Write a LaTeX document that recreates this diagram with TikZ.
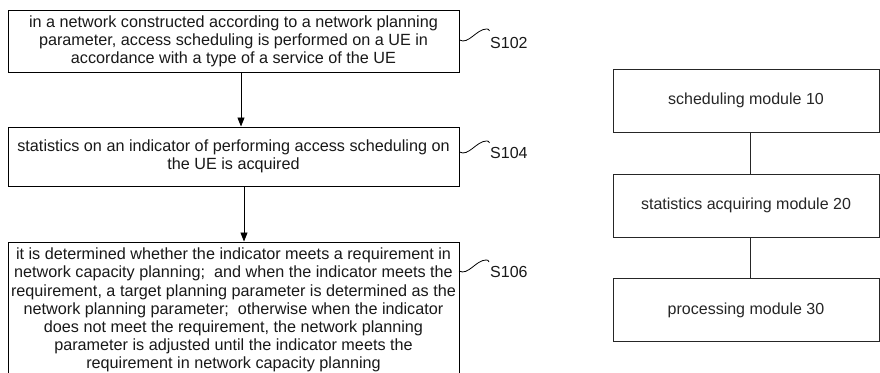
\documentclass[tikz,border=0pt]{standalone}
\usepackage{fontspec}
\setmainfont{Liberation Sans}
\usetikzlibrary{arrows.meta,calc}
\tikzset{
  stepbox/.style={draw=black,line width=0.95pt,rectangle,inner sep=0pt,align=center,
    minimum width=451pt,font=\fontsize{16.2}{18.1}\selectfont,text=black!90},
  modbox/.style={draw=black!85,line width=0.8pt,rectangle,inner sep=0pt,align=center,
    minimum width=266pt,minimum height=63pt,font=\fontsize{16}{18}\selectfont,text=black!85},
  flow/.style={line width=0.9pt,-{Triangle[length=9pt,width=7pt]}},
  link/.style={draw=black!85,line width=0.8pt},
  steplabel/.style={anchor=west,inner sep=0pt,font=\fontsize{16}{18}\selectfont,text=black!90},
  squig/.style={line width=0.8pt}
}
\begin{document}
\begin{tikzpicture}[x=1pt,y=-1pt]
\clip (0,0) rectangle (880,372);
\fill[white] (0,0) rectangle (880,372);

% left flow
\node[stepbox,minimum height=62pt] (b1) at (233.5,41)
 {in a network constructed according to a network planning\\
  parameter, access scheduling is performed on a UE in\\
  accordance with a type of a service of the UE};
\node[stepbox,minimum height=59pt] (b2) at (233.5,156.5)
 {statistics on an indicator of performing access scheduling on\\
  the UE is acquired};
\node[stepbox,minimum height=136pt] (b3) at (233.5,310)
 {it is determined whether the indicator meets a requirement in\\
  network capacity planning;\ \ and when the indicator meets the\\
  requirement, a target planning parameter is determined as the\\
  network planning parameter;\ \ otherwise when the indicator\\
  does not meet the requirement, the network planning\\
  parameter is adjusted until the indicator meets the\\
  requirement in network capacity planning};

\draw[flow] ([xshift=7.5pt]b1.south) -- ([xshift=7.5pt]b2.north);
\draw[flow] ([xshift=10.5pt]b2.south) -- ([xshift=10.5pt]b3.north);

% step labels
\node[steplabel] (s102) at (490,43) {S102};
\node[steplabel] (s104) at (490,153) {S104};
\node[steplabel] (s106) at (490,272) {S106};

\draw[squig] ([yshift=1pt]b1.east) coordinate (p1)
  .. controls ($(p1)+(9,5)$) and ($(p1)+(17,-11)$) .. ($(p1)+(27,-11)$)
  .. controls ($(p1)+(29,-11)$) .. ($(p1)+(30,-9)$);
\draw[squig] ([yshift=4.5pt]b2.east) coordinate (p2)
  .. controls ($(p2)+(9,5)$) and ($(p2)+(17,-11)$) .. ($(p2)+(27,-11)$)
  .. controls ($(p2)+(29,-11)$) .. ($(p2)+(30,-9)$);
\draw[squig] (459,271) coordinate (p3)
  .. controls ($(p3)+(9,5)$) and ($(p3)+(17,-11)$) .. ($(p3)+(27,-11)$)
  .. controls ($(p3)+(29,-11)$) .. ($(p3)+(30,-9)$);

% right module diagram
\node[modbox] (m1) at (746,100.5) {scheduling module 10};
\node[modbox] (m2) at (746,205.5) {statistics acquiring module 20};
\node[modbox] (m3) at (746,310) {processing module 30};
\draw[link] ([xshift=4pt]m1.south) -- ([xshift=4pt]m2.north);
\draw[link] ([xshift=4pt]m2.south) -- ([xshift=4pt]m3.north);
\end{tikzpicture}
\end{document}
